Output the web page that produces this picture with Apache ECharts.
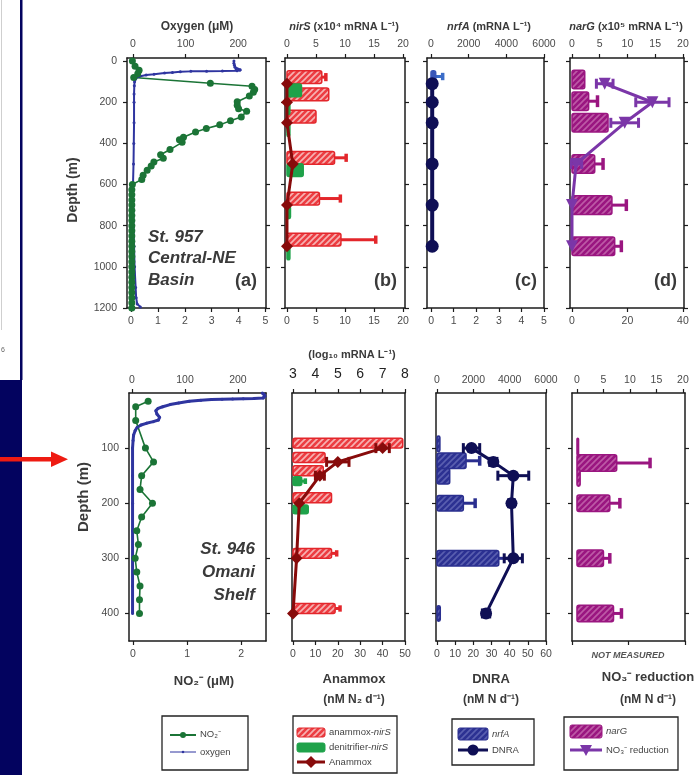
<!DOCTYPE html>
<html>
<head>
<meta charset="utf-8">
<script src="https://cdn.jsdelivr.net/npm/echarts@6/dist/echarts.min.js"></script>
<style>
  html, body { margin: 0; padding: 0; background: #fff; }
  #chart { width: 694px; height: 775px; }
</style>
</head>
<body>
<div id="chart"></div>
<script>
// ---------------- St. 957, Central-NE Basin ----------------
const o2Depth957 = [0, 10, 20, 30, 38, 42, 45, 47, 48, 49, 50, 52, 55, 58, 64, 68, 75, 82, 90, 100, 120, 160, 200, 300, 400, 500, 600, 700, 800, 900, 1000, 1100, 1150, 1180, 1195];
const o2Val957   = [192, 192, 193, 194, 196, 204, 203, 198, 170, 140, 110, 90, 75, 60, 40, 25, 12, 6, 4, 3, 2.5, 2, 2, 2, 1.5, 1, 0, 0.5, 1, 2, 3, 5, 6, 8, 14];
const no2Depth957 = [0, 25, 45, 62, 80, 108, 122, 138, 152, 170, 198, 215, 232, 244, 272, 290, 310, 328, 345, 370, 382, 395, 430, 455, 472, 490, 510, 530, 555, 575, 600, 625, 650, 675, 700, 725, 750, 775, 800, 825, 850, 875, 900, 925, 950, 975, 1000, 1025, 1050, 1075, 1100, 1125, 1150, 1175, 1200];
const no2Val957   = [0.05, 0.15, 0.3, 0.25, 0.1, 2.95, 4.5, 4.6, 4.55, 4.4, 3.95, 3.95, 4.0, 4.3, 4.1, 3.7, 3.3, 2.8, 2.4, 1.95, 1.8, 1.9, 1.45, 1.1, 1.2, 0.85, 0.75, 0.6, 0.45, 0.4, 0.05, 0.03, 0.03, 0.03, 0.03, 0.03, 0.03, 0.03, 0.03, 0.03, 0.03, 0.03, 0.03, 0.03, 0.03, 0.03, 0.03, 0.03, 0.03, 0.03, 0.03, 0.03, 0.03, 0.03, 0.03];

const rateDepth957 = [110, 200, 300, 500, 700, 900];
const anammoxRate957 = [0, 0, 0, 1.0, 0, 0];
const dnraRate957 = [0.05, 0.05, 0.05, 0.05, 0.05, 0.05];
const no3Red957 = [11.8, 29, 19, 1.5, 0, 0];
const no3RedErr957 = [3, 6, 5, 2, 0, 0];

const amxNirSDepth957 = [78, 162, 270, 470, 668, 868];
const amxNirS957 = [6.0, 7.2, 5.0, 8.2, 5.6, 9.3];
const amxNirSTop957 = [6.7, 7.2, 5.0, 10.2, 9.2, 15.3];
const denNirSDepth957 = [142, 228, 335, 530, 735, 935];
const denNirS957 = [2.5, 0.5, 0.5, 2.8, 0.6, 0.5];
const nrfADepth957 = [75];
const nrfA957 = [250];
const nrfATop957 = [620];
const narGDepth957 = [90, 195, 300, 500, 700, 900];
const narG957 = [2.3, 3.0, 6.5, 4.1, 7.2, 7.7];
const narGTop957 = [2.3, 4.6, 6.5, 5.6, 9.8, 8.9];

// ---------------- St. 946, Omani Shelf ----------------
const o2Depth946 = [0, 3, 6, 9, 10, 10.5, 11, 11.5, 12, 13, 15, 18, 21, 25, 28, 32, 38, 44, 49, 52, 55, 58, 62, 68, 76, 86, 100, 150, 200, 250, 300, 350, 400];
const o2Val946   = [246, 250, 251, 248, 230, 210, 190, 170, 150, 130, 108, 88, 72, 58, 49, 45, 47, 52, 50, 40, 27, 17, 10, 6, 3, 2, 1, 1, 1, 1, 1, 1, 1];
const no2Depth946 = [15, 25, 50, 100, 125, 150, 175, 200, 225, 250, 275, 300, 325, 350, 375, 400];
const no2Val946   = [0.28, 0.05, 0.05, 0.23, 0.38, 0.16, 0.13, 0.36, 0.16, 0.07, 0.1, 0.04, 0.07, 0.13, 0.12, 0.12];

const rateDepth946 = [100, 125, 150, 200, 300, 400];
const anammoxRate946 = [40, 20, 12, 2.8, 1.6, 0];
const anammoxErr946 = [3, 5, 2, 0, 0, 0];
const dnraRate946 = [19, 31, 42, 41, 42, 27];
const dnraErr946 = [4.5, 2, 8.5, 1.5, 5, 2];

const amxNirSDepth946 = [91, 117, 141, 190, 291, 391];
const amxNirS946 = [7.9, 4.43, 4.35, 4.72, 4.72, 4.88];
const amxNirSTop946 = [7.9, 4.43, 4.35, 4.72, 4.95, 5.1];
const denNirSDepth946 = [160, 211];
const denNirS946 = [3.39, 3.68];
const denNirSTop946 = [3.55, 3.68];
const nrfADepth946 = [92, 123, 151, 200, 300, 400];
const nrfA946 = [160, 1600, 700, 1450, 3400, 180];
const nrfATop946 = [160, 2350, 700, 2100, 4100, 180];
const narGDepth946 = [97, 127, 154, 200, 300, 400];
const narG946 = [0.3, 7.5, 0.6, 6.2, 5.0, 6.9];
const narGTop946 = [0.3, 13.8, 0.6, 8.1, 6.2, 8.4];

// ---------------- tick positions ----------------
const depthTicks957 = [0, 200, 400, 600, 800, 1000, 1200];
const depthTicks946 = [100, 200, 300, 400];
const o2Ticks = [0, 100, 200];
const no2Ticks957 = [0, 1, 2, 3, 4, 5];
const nirSTicks = [0, 5, 10, 15, 20];
const nrfATicks = [0, 2000, 4000, 6000];
const dnraTicks957 = [0, 1, 2, 3, 4, 5];
const narGTicks = [0, 5, 10, 15, 20];
const no3Ticks957 = [0, 20, 40];
const no2Ticks946 = [0, 1, 2];
const logTicks = [3, 4, 5, 6, 7, 8];
const anammoxTicks946 = [0, 10, 20, 30, 40, 50];
const dnraTicks946 = [0, 10, 20, 30, 40, 50, 60];
const no3Ticks946 = [0, 20, 40];

// ---------------- layout ----------------
const FONT = '"Liberation Sans", Arial, Helvetica, sans-serif';
const grids = [
  { left: 127, top: 58, width: 139, height: 250 },
  { left: 285, top: 58, width: 120, height: 250 },
  { left: 427, top: 58, width: 117, height: 250 },
  { left: 570, top: 58, width: 114, height: 250 },
  { left: 129, top: 393, width: 137, height: 248 },
  { left: 292, top: 393, width: 113, height: 248 },
  { left: 436, top: 393, width: 110, height: 248 },
  { left: 572, top: 393, width: 113, height: 248 }
];

function valAxis(gridIndex, position, range, ticks, labels, extra) {
  const isX = position === 'top' || position === 'bottom';
  const lab = labels
    ? Object.assign({ show: true, customValues: labels, fontFamily: FONT, fontSize: 10.5, color: '#4a4a4a',
        margin: isX ? 8 : 9, formatter: v => String(v) }, extra || {})
    : { show: false };
  return {
    type: 'value', gridIndex, position, min: range[0], max: range[1], inverse: !isX,
    axisLine: { show: true, onZero: false, lineStyle: { color: '#1c1c1c', width: 1.5 } },
    axisTick: { show: true, inside: false, length: 4, customValues: ticks, lineStyle: { color: '#1c1c1c', width: 1.2 } },
    axisLabel: lab,
    splitLine: { show: false }
  };
}

const Y1 = [-15, 1200], Y2 = [0, 450];
const xAxes = [
  valAxis(0, 'top', [-11.4, 253], o2Ticks, o2Ticks),
  valAxis(0, 'bottom', [-0.15, 5.02], no2Ticks957, no2Ticks957),
  valAxis(1, 'top', [-0.34, 20.34], nirSTicks, nirSTicks),
  valAxis(1, 'bottom', [-0.34, 20.34], nirSTicks, nirSTicks),
  valAxis(2, 'top', [-212, 6000], nrfATicks, nrfATicks),
  valAxis(2, 'bottom', [-0.18, 5], dnraTicks957, dnraTicks957),
  valAxis(3, 'top', [-0.36, 20.2], narGTicks, narGTicks),
  valAxis(3, 'bottom', [-0.72, 40.4], no3Ticks957, no3Ticks957),
  valAxis(4, 'top', [-5.7, 253], o2Ticks, o2Ticks, { margin: 7 }),
  valAxis(4, 'bottom', [-0.074, 2.46], no2Ticks946, no2Ticks946, { margin: 8 }),
  valAxis(5, 'top', [2.955, 8], logTicks, logTicks, { fontSize: 14, color: '#222', margin: 12 }),
  valAxis(5, 'bottom', [-0.45, 50], anammoxTicks946, anammoxTicks946, { margin: 8 }),
  valAxis(6, 'top', [-55, 6000], nrfATicks, nrfATicks, { margin: 7 }),
  valAxis(6, 'bottom', [-0.55, 60], dnraTicks946, dnraTicks946, { margin: 8 }),
  valAxis(7, 'top', [-0.94, 20.4], narGTicks, narGTicks, { margin: 7 }),
  valAxis(7, 'bottom', [0, 40], no3Ticks946, null)
];
const yAxes = [];
for (let g = 0; g < 8; g++) {
  const top = g < 4;
  const range = top ? Y1 : Y2;
  const ticks = top ? depthTicks957 : depthTicks946;
  const labelled = g === 0 || g === 4;
  yAxes.push(valAxis(g, 'left', range, ticks, labelled ? ticks : null, { margin: 10 }));
  yAxes.push(valAxis(g, 'right', range, ticks, null));
}

// ---------------- fills ----------------
function hatch(bg, stripe) {
  const c = document.createElement('canvas');
  c.width = 6; c.height = 6;
  const g = c.getContext('2d');
  g.fillStyle = bg; g.fillRect(0, 0, 6, 6);
  g.strokeStyle = stripe; g.lineWidth = 1.6;
  g.beginPath();
  g.moveTo(-1, 7); g.lineTo(7, -1);
  g.moveTo(-4, 4); g.lineTo(4, -4);
  g.moveTo(2, 10); g.lineTo(10, 2);
  g.stroke();
  return { image: c, repeat: 'repeat' };
}
const RED_FILL = hatch('#ec3d42', '#f6b3b3');
const NAVY_FILL = hatch('#2c3192', '#5a5fb0');
const MAG_FILL = hatch('#9a1680', '#bd5aa6');
const RED = '#e3262b', GREEN = '#1fa24a', DKRED = '#870b0b', NAVY = '#2a2f8f',
      DKNAVY = '#0f0f55', MAG = '#9a1680', PURPLE = '#7b36a8', NO2GREEN = '#1b7436', O2BLUE = '#2f35a0';

// ---------------- series builders ----------------
function barLayer(name, xi, yi, depths, vals, tops, half, base, fill, stroke, whisker) {
  return {
    type: 'custom', name, xAxisIndex: xi, yAxisIndex: yi, z: 3, clip: true,
    data: depths.map((d, i) => [vals[i], d, tops ? tops[i] : vals[i]]),
    encode: { x: [0, 2], y: 1 },
    renderItem(params, api) {
      const v = api.value(0), d = api.value(1), e = api.value(2);
      const a = api.coord([base, d - half]), b = api.coord([v, d + half]);
      const x0 = Math.min(a[0], b[0]), y0 = Math.min(a[1], b[1]);
      const w = Math.abs(b[0] - a[0]), h = Math.abs(b[1] - a[1]);
      const kids = [];
      if (e > v) {
        const m = api.coord([v, d]), t = api.coord([e, d]);
        kids.push({ type: 'line', shape: { x1: m[0], y1: m[1], x2: t[0], y2: t[1] }, style: { stroke: whisker, lineWidth: 3 } });
        kids.push({ type: 'line', shape: { x1: t[0], y1: m[1] - h * 0.32, x2: t[0], y2: m[1] + h * 0.32 }, style: { stroke: whisker, lineWidth: 3.5 } });
      }
      kids.push({ type: 'rect', shape: { x: x0, y: y0, width: w, height: h, r: 2 }, style: { fill, stroke, lineWidth: 1.5 } });
      return { type: 'group', children: kids };
    }
  };
}
function errLayer(xi, yi, depths, vals, errs, color, cap) {
  return {
    type: 'custom', xAxisIndex: xi, yAxisIndex: yi, z: 4, clip: true,
    data: depths.map((d, i) => [vals[i], d, errs[i]]),
    encode: { x: 0, y: 1 },
    renderItem(params, api) {
      const v = api.value(0), d = api.value(1), e = api.value(2);
      if (!(e > 0)) return { type: 'group', children: [] };
      const l = api.coord([v - e, d]), r = api.coord([v + e, d]);
      return { type: 'group', children: [
        { type: 'line', shape: { x1: l[0], y1: l[1], x2: r[0], y2: r[1] }, style: { stroke: color, lineWidth: 3 } },
        { type: 'line', shape: { x1: l[0], y1: l[1] - cap, x2: l[0], y2: l[1] + cap }, style: { stroke: color, lineWidth: 3 } },
        { type: 'line', shape: { x1: r[0], y1: r[1] - cap, x2: r[0], y2: r[1] + cap }, style: { stroke: color, lineWidth: 3 } }
      ] };
    }
  };
}
function profile(name, xi, yi, xs, depths, color, width, symbol, size, extra) {
  return Object.assign({
    type: 'line', name, xAxisIndex: xi, yAxisIndex: yi, z: 5,
    data: depths.map((d, i) => [xs[i], d]),
    symbol, symbolSize: size, showSymbol: true,
    lineStyle: { color, width }, itemStyle: { color, borderWidth: 0 },
    emphasis: { disabled: true }
  }, extra || {});
}

const series = [
  // (a)
  profile('oxygen', 0, 0, o2Val957, o2Depth957, O2BLUE, 2, 'circle', 3),
  profile('NO₂⁻', 1, 0, no2Val957, no2Depth957, NO2GREEN, 1.6, 'circle', 7),
  // (b)
  barLayer('anammox-nirS', 2, 2, amxNirSDepth957, amxNirS957, amxNirSTop957, 31, 0, RED_FILL, RED, RED),
  barLayer('denitrifier-nirS', 2, 2, denNirSDepth957, denNirS957, null, 31, 0, GREEN, GREEN, GREEN),
  profile('Anammox', 3, 2, anammoxRate957, rateDepth957, DKRED, 3, 'diamond', 12),
  // (c)
  barLayer('nrfA', 4, 4, nrfADepth957, nrfA957, nrfATop957, 28, 0, '#3a57b8', '#3a57b8', '#3a6cc8'),
  profile('DNRA', 5, 4, dnraRate957, rateDepth957, DKNAVY, 4, 'circle', 13),
  // (d)
  barLayer('narG', 6, 6, narGDepth957, narG957, narGTop957, 45, 0, MAG_FILL, MAG, MAG),
  errLayer(7, 6, rateDepth957, no3Red957, no3RedErr957, PURPLE, 5),
  profile('NO₃⁻ reduction', 7, 6, no3Red957, rateDepth957, PURPLE, 3, 'triangle', 12, { symbolRotate: 180 }),
  // (e)
  profile('oxygen', 8, 8, o2Val946, o2Depth946, O2BLUE, 3, 'circle', 3),
  profile('NO₂⁻', 9, 8, no2Val946, no2Depth946, NO2GREEN, 1.6, 'circle', 7),
  // (f)
  barLayer('anammox-nirS', 10, 10, amxNirSDepth946, amxNirS946, amxNirSTop946, 9, 3, RED_FILL, RED, RED),
  barLayer('denitrifier-nirS', 10, 10, denNirSDepth946, denNirS946, denNirSTop946, 8, 3, GREEN, GREEN, GREEN),
  errLayer(11, 10, rateDepth946, anammoxRate946, anammoxErr946, DKRED, 5),
  profile('Anammox', 11, 10, anammoxRate946, rateDepth946, DKRED, 3, 'diamond', 12),
  // (g)
  barLayer('nrfA', 12, 12, nrfADepth946, nrfA946, nrfATop946, 14, 0, NAVY_FILL, NAVY, NAVY),
  errLayer(13, 12, rateDepth946, dnraRate946, dnraErr946, DKNAVY, 5),
  profile('DNRA', 13, 12, dnraRate946, rateDepth946, DKNAVY, 3, 'circle', 12),
  // (h)
  barLayer('narG', 14, 14, narGDepth946, narG946, narGTop946, 15, 0, MAG_FILL, MAG, MAG)
];

// ---------------- text and annotation ----------------
function txt(x, y, text, font, opts) {
  return Object.assign({ type: 'text', x, y, silent: true,
    style: Object.assign({ text, font, fill: '#3a3a3a', align: 'center', verticalAlign: 'middle' }, (opts && opts.style) || {}) },
    opts && opts.rotation !== undefined ? { rotation: opts.rotation } : {});
}
const B12 = 'bold 12px ' + FONT, B13 = 'bold 13px ' + FONT;
function richTitle(x, y, parts, size) {
  return { type: 'text', x, y, silent: true, style: {
    text: parts.map(p => p[1] ? '{i|' + p[0] + '}' : '{n|' + p[0] + '}').join(''),
    align: 'center', verticalAlign: 'middle',
    rich: {
      n: { fontFamily: FONT, fontWeight: 'bold', fontSize: size, fill: '#3a3a3a' },
      i: { fontFamily: FONT, fontWeight: 'bold', fontStyle: 'italic', fontSize: size, fill: '#3a3a3a' }
    } } };
}
function legendText(x, y, parts) {
  return { type: 'text', x, y, silent: true, style: {
    text: parts.map(p => p[1] ? '{i|' + p[0] + '}' : '{n|' + p[0] + '}').join(''),
    align: 'left', verticalAlign: 'middle',
    rich: {
      n: { fontFamily: FONT, fontSize: 9.5, fill: '#444' },
      i: { fontFamily: FONT, fontSize: 9.5, fontStyle: 'italic', fill: '#444' }
    } } };
}
function box(x, y, w, h) {
  return { type: 'rect', shape: { x, y, width: w, height: h }, silent: true, style: { fill: 'none', stroke: '#222', lineWidth: 1.3 } };
}
function legLine(x1, x2, y, color, width) {
  return { type: 'line', shape: { x1, y1: y, x2, y2: y }, silent: true, style: { stroke: color, lineWidth: width } };
}
function swatch(x, y, w, h, fill, stroke) {
  return { type: 'rect', shape: { x, y, width: w, height: h, r: 2 }, silent: true, style: { fill, stroke, lineWidth: 1 } };
}

const SI = 'italic bold 17px ' + FONT;
const graphic = [
  // side strip
  { type: 'rect', shape: { x: 0, y: 380, width: 22, height: 395 }, style: { fill: '#03035f' }, silent: true },
  { type: 'rect', shape: { x: 20, y: 0, width: 2.5, height: 380 }, style: { fill: '#03035f' }, silent: true },
  { type: 'line', shape: { x1: 1.5, y1: 0, x2: 1.5, y2: 330 }, style: { stroke: '#cfcfcf', lineWidth: 1 }, silent: true },
  txt(3, 350, '6', '7px ' + FONT, { style: { fill: '#666' } }),
  // arrow
  { type: 'rect', shape: { x: 0, y: 457, width: 55, height: 4.5 }, style: { fill: '#ee1b12' }, silent: true },
  { type: 'polygon', shape: { points: [[51, 451.5], [68, 459.2], [51, 467]] }, style: { fill: '#ee1b12' }, silent: true },

  // top-row headings
  txt(197, 27, 'Oxygen (μM)', B12),
  richTitle(344, 27, [['nirS', true], [' (x10⁴ mRNA L⁻¹)', false]], 11),
  richTitle(489, 27, [['nrfA', true], [' (mRNA L⁻¹)', false]], 11),
  richTitle(626, 27, [['narG', true], [' (x10⁵ mRNA L⁻¹)', false]], 11),
  txt(73, 190, 'Depth (m)', 'bold 14px ' + FONT, { rotation: Math.PI / 2 }),
  txt(84, 497, 'Depth (m)', 'bold 15px ' + FONT, { rotation: Math.PI / 2 }),

  // station labels
  txt(148, 237, 'St. 957', SI, { style: { align: 'left' } }),
  txt(148, 258, 'Central-NE', SI, { style: { align: 'left' } }),
  txt(148, 280, 'Basin', SI, { style: { align: 'left' } }),
  txt(257, 281, '(a)', 'bold 18px ' + FONT, { style: { align: 'right' } }),
  txt(397, 281, '(b)', 'bold 18px ' + FONT, { style: { align: 'right' } }),
  txt(537, 281, '(c)', 'bold 18px ' + FONT, { style: { align: 'right' } }),
  txt(677, 281, '(d)', 'bold 18px ' + FONT, { style: { align: 'right' } }),
  txt(255, 549, 'St. 946', SI, { style: { align: 'right' } }),
  txt(255, 572, 'Omani', SI, { style: { align: 'right' } }),
  txt(255, 595, 'Shelf', SI, { style: { align: 'right' } }),

  // bottom-row headings
  txt(352, 355, '(log₁₀ mRNA L⁻¹)', 'bold 11px ' + FONT),
  txt(628, 656, 'NOT MEASURED', 'italic bold 9px ' + FONT, { style: { fill: '#555' } }),
  txt(204, 681, 'NO₂⁻ (μM)', B13),
  txt(354, 679, 'Anammox', B13),
  txt(354, 700, '(nM N₂ d⁻¹)', B12),
  txt(491, 679, 'DNRA', B13),
  txt(491, 700, '(nM N d⁻¹)', B12),
  txt(648, 677, 'NO₃⁻ reduction', B13),
  txt(648, 700, '(nM N d⁻¹)', B12),

  // legend: profiles
  box(162, 716, 86, 54),
  legLine(170, 196, 735, NO2GREEN, 2),
  { type: 'circle', shape: { cx: 183, cy: 735, r: 3 }, style: { fill: NO2GREEN }, silent: true },
  legendText(200, 734, [['NO₂⁻', false]]),
  legLine(170, 196, 752, O2BLUE, 1),
  { type: 'circle', shape: { cx: 183, cy: 752, r: 1.3 }, style: { fill: O2BLUE }, silent: true },
  legendText(200, 752, [['oxygen', false]]),

  // legend: anammox
  box(293, 716, 104, 57),
  swatch(297, 728, 28, 9, RED_FILL, RED),
  legendText(329, 732.5, [['anammox-', false], ['nirS', true]]),
  swatch(297, 743, 28, 9, GREEN, GREEN),
  legendText(329, 747.5, [['denitrifier-', false], ['nirS', true]]),
  legLine(297, 325, 762, DKRED, 3),
  { type: 'polygon', shape: { points: [[311, 756], [317, 762], [311, 768], [305, 762]] }, style: { fill: DKRED }, silent: true },
  legendText(329, 762, [['Anammox', false]]),

  // legend: DNRA
  box(452, 719, 82, 46),
  swatch(458, 728, 30, 12, NAVY_FILL, NAVY),
  legendText(492, 734, [['nrfA', true]]),
  legLine(458, 488, 750, DKNAVY, 3),
  { type: 'circle', shape: { cx: 473, cy: 750, r: 5.5 }, style: { fill: DKNAVY }, silent: true },
  legendText(492, 750, [['DNRA', false]]),

  // legend: nitrate reduction
  box(564, 717, 114, 53),
  swatch(570, 725, 32, 13, MAG_FILL, MAG),
  legendText(606, 731, [['narG', true]]),
  legLine(570, 602, 750, PURPLE, 3),
  { type: 'polygon', shape: { points: [[580, 745], [592, 745], [586, 756]] }, style: { fill: PURPLE }, silent: true },
  legendText(606, 750, [['NO₃⁻ reduction', false]])
];

const chart = echarts.init(document.getElementById('chart'), null, { renderer: 'canvas', width: 694, height: 775 });
chart.setOption({
  animation: false,
  backgroundColor: '#ffffff',
  grid: grids.map(g => Object.assign({ containLabel: false }, g)),
  xAxis: xAxes,
  yAxis: yAxes,
  series,
  graphic
});
</script>
</body>
</html>
